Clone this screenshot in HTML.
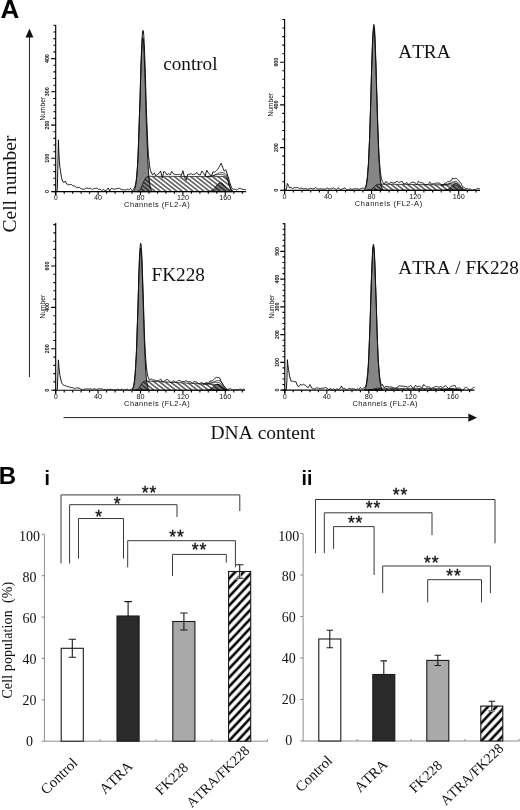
<!DOCTYPE html>
<html><head><meta charset="utf-8"><title>Figure</title>
<style>
html,body{margin:0;padding:0;background:#fff;}
svg{display:block}
text{font-family:"Liberation Serif",serif;fill:#111;font-kerning:none}
.yt{font-family:"Liberation Sans",sans-serif;font-size:5.3px;font-weight:bold}
.xt{font-family:"Liberation Sans",sans-serif;font-size:7.2px}
.num{font-family:"Liberation Sans",sans-serif;font-size:6.7px}
.ch{font-family:"Liberation Sans",sans-serif;font-size:7.4px}
.lab{font-size:19.2px}
.big{font-size:19.5px}
.pl{font-family:"Liberation Sans",sans-serif;font-weight:bold;font-size:24px;fill:#000}
.ps{font-family:"Liberation Sans",sans-serif;font-weight:bold;font-size:19.5px;fill:#000}
.tk{font-size:14px;text-anchor:middle}
.cat{font-size:14.1px;text-anchor:middle}
.st{font-family:"Liberation Sans",sans-serif;font-size:17.5px;text-anchor:middle;stroke:#111;stroke-width:0.35px;letter-spacing:0.9px}
.yl{font-size:14px}
</style></head><body>
<svg width="520" height="810" viewBox="0 0 520 810">
<defs>
<pattern id="hs" width="3.35" height="8" patternUnits="userSpaceOnUse" patternTransform="rotate(-52)">
<line x1="1.7" y1="-1" x2="1.7" y2="9" stroke="#000" stroke-width="1.0"/>
</pattern>
<pattern id="hb" width="6.15" height="8" patternUnits="userSpaceOnUse" patternTransform="rotate(43)">
<rect width="6.15" height="8" fill="#fff"/><rect x="1.2" y="0" width="2.55" height="8" fill="#000"/>
</pattern>
</defs>
<rect width="520" height="810" fill="#fff"/>

<text x="0.4" y="18.1" class="pl" style="font-size:26px">A</text>
<text x="-1.2" y="484" class="pl">B</text>
<text x="44.6" y="484.6" class="ps">i</text>
<text x="301.6" y="485.1" class="ps">ii</text>
<path d="M29.45 377V36" stroke="#222" stroke-width="1" fill="none"/><path d="M29.45 28.6L33.4 37.5H25.5Z" fill="#111"/>
<path d="M63.5 417.6H468" stroke="#222" stroke-width="1" fill="none"/><path d="M477 417.7L468.3 421.8V413.6Z" fill="#111"/>
<text transform="translate(16.3 184) rotate(-90)" class="big" text-anchor="middle">Cell number</text>
<text x="262.8" y="438.5" class="big" text-anchor="middle">DNA content</text>
<g><path d="M133.6 191.6 L133.6 190.9 L134.1 190.3 L134.7 189.3 L135.2 187.8 L135.7 185.3 L136.3 181.6 L136.8 176.3 L137.3 169.1 L137.9 159.6 L138.4 147.7 L138.9 133.4 L139.4 117.2 L140.0 99.8 L140.5 82.3 L141.0 66.0 L141.6 52.4 L142.1 42.6 L142.6 37.8 L143.2 38.3 L143.7 44.2 L144.2 54.8 L144.7 69.1 L145.3 85.7 L145.8 103.3 L146.3 120.5 L146.9 136.4 L147.4 150.2 L147.9 161.7 L148.4 170.7 L149.0 177.5 L149.5 182.5 L150.0 185.9 L150.6 188.1 L151.1 189.6 L151.6 190.5 L151.6 191.6 Z" fill="#858585" stroke="#111" stroke-width="1.00" stroke-linejoin="round"/>
<path d="M208.9 191.6 L208.9 191.4 L209.4 191.3 L209.9 191.2 L210.5 191.0 L211.0 190.8 L211.5 190.6 L212.1 190.3 L212.6 190.0 L213.1 189.6 L213.6 189.1 L214.2 188.6 L214.7 188.0 L215.2 187.4 L215.8 186.7 L216.3 186.0 L216.8 185.3 L217.4 184.7 L217.9 184.1 L218.4 183.6 L218.9 183.2 L219.5 182.8 L220.0 182.7 L220.5 182.6 L221.1 182.7 L221.6 183.0 L222.1 183.3 L222.7 183.8 L223.2 184.3 L223.7 185.0 L224.2 185.6 L224.8 186.3 L225.3 187.0 L225.8 187.6 L226.4 188.2 L226.9 188.8 L227.4 189.3 L227.9 189.7 L228.5 190.1 L229.0 190.4 L229.5 190.7 L230.1 190.9 L230.6 191.1 L231.1 191.2 L231.7 191.3 L232.2 191.4 L232.2 191.6 Z" fill="#7d7d7d" stroke="#111" stroke-width="0.90"/>
<path d="M136.8 191.6 L136.8 191.5 L137.3 191.4 L137.9 191.3 L138.4 191.1 L138.9 190.8 L139.4 190.4 L140.0 189.8 L140.5 189.1 L141.0 188.2 L141.6 187.1 L142.1 185.8 L142.6 184.5 L143.2 183.1 L143.7 181.8 L144.2 180.6 L144.7 179.5 L145.3 178.7 L145.8 177.9 L146.3 177.4 L146.9 177.0 L147.4 176.8 L147.9 176.6 L148.4 176.5 L149.0 176.4 L149.5 176.4 L150.0 176.4 L150.6 176.3 L151.1 176.3 L151.6 176.3 L152.2 176.3 L152.7 176.3 L153.2 176.3 L153.8 176.4 L154.3 176.4 L154.8 176.4 L155.3 176.4 L155.9 176.4 L156.4 176.4 L156.9 176.4 L157.5 176.4 L158.0 176.4 L158.5 176.4 L159.1 176.4 L159.6 176.4 L160.1 176.4 L160.6 176.4 L161.2 176.4 L161.7 176.4 L162.2 176.4 L162.8 176.4 L163.3 176.4 L163.8 176.4 L164.4 176.4 L164.9 176.4 L165.4 176.4 L165.9 176.4 L166.5 176.4 L167.0 176.4 L167.5 176.4 L168.1 176.4 L168.6 176.4 L169.1 176.4 L169.7 176.4 L170.2 176.4 L170.7 176.4 L171.2 176.4 L171.8 176.4 L172.3 176.4 L172.8 176.4 L173.4 176.4 L173.9 176.4 L174.4 176.4 L174.9 176.4 L175.5 176.4 L176.0 176.4 L176.5 176.4 L177.1 176.5 L177.6 176.5 L178.1 176.5 L178.7 176.5 L179.2 176.5 L179.7 176.5 L180.2 176.5 L180.8 176.5 L181.3 176.5 L181.8 176.5 L182.4 176.5 L182.9 176.5 L183.4 176.5 L184.0 176.5 L184.5 176.5 L185.0 176.5 L185.6 176.5 L186.1 176.5 L186.6 176.5 L187.1 176.5 L187.7 176.5 L188.2 176.5 L188.7 176.5 L189.3 176.5 L189.8 176.5 L190.3 176.5 L190.9 176.5 L191.4 176.5 L191.9 176.5 L192.4 176.5 L193.0 176.5 L193.5 176.5 L194.0 176.5 L194.6 176.5 L195.1 176.5 L195.6 176.5 L196.2 176.5 L196.7 176.5 L197.2 176.5 L197.7 176.5 L198.3 176.5 L198.8 176.5 L199.3 176.5 L199.9 176.5 L200.4 176.6 L200.9 176.6 L201.4 176.6 L202.0 176.6 L202.5 176.6 L203.0 176.6 L203.6 176.6 L204.1 176.6 L204.6 176.6 L205.2 176.6 L205.7 176.6 L206.2 176.6 L206.8 176.6 L207.3 176.6 L207.8 176.6 L208.3 176.6 L208.9 176.6 L209.4 176.6 L209.9 176.6 L210.5 176.6 L211.0 176.6 L211.5 176.6 L212.1 176.6 L212.6 176.6 L213.1 176.6 L213.6 176.6 L214.2 176.6 L214.7 176.6 L215.2 176.6 L215.8 176.6 L216.3 176.6 L216.8 176.6 L217.4 176.6 L217.9 176.6 L218.4 176.6 L218.9 176.6 L219.5 176.6 L220.0 176.6 L220.5 176.6 L221.1 176.6 L221.6 176.6 L222.1 176.6 L222.7 176.6 L223.2 176.6 L223.7 176.7 L224.2 176.7 L224.8 176.8 L225.3 177.0 L225.8 177.3 L226.4 177.8 L226.9 178.6 L227.4 179.7 L227.9 181.1 L228.5 182.7 L229.0 184.5 L229.5 186.2 L230.1 187.7 L230.6 189.0 L231.1 190.0 L231.7 190.7 L232.2 191.1 L232.7 191.3 L232.7 191.6 Z" fill="url(#hs)" stroke="#111" stroke-width="0.90"/>
<path d="M55.7 191.6 L56.2 191.6 L56.8 191.6 L57.3 189.1 L57.8 168.6 L58.4 139.8 L58.9 153.1 L59.4 161.8 L59.9 167.4 L60.5 170.7 L61.0 174.7 L61.5 177.6 L62.1 179.9 L62.6 181.0 L63.1 181.9 L63.7 182.6 L64.2 182.1 L64.7 181.7 L65.2 181.1 L65.8 182.2 L66.3 183.1 L66.8 184.1 L67.4 184.4 L67.9 184.6 L68.4 184.9 L69.0 184.8 L69.5 184.6 L70.0 184.5 L70.5 184.5 L71.1 184.5 L71.6 184.5 L72.1 185.0 L72.7 185.6 L73.2 186.1 L73.7 186.0 L74.2 185.9 L74.8 185.8 L75.3 186.4 L75.8 187.1 L76.4 187.7 L76.9 187.6 L77.4 187.5 L78.0 187.3 L78.5 187.5 L79.0 187.6 L79.6 187.6 L80.1 188.0 L80.6 188.4 L81.1 188.8 L81.7 188.9 L82.2 189.0 L82.7 189.1 L83.3 189.2 L83.8 189.3 L84.3 189.4 L84.9 189.0 L85.4 188.6 L85.9 188.2 L86.4 188.2 L87.0 188.2 L87.5 188.2 L88.0 188.3 L88.6 188.4 L89.1 188.5 L89.6 188.4 L90.2 188.3 L90.7 188.2 L91.2 188.7 L91.7 189.2 L92.3 189.6 L92.8 189.3 L93.3 188.9 L93.9 188.6 L94.4 188.5 L94.9 188.4 L95.5 188.3 L96.0 188.2 L96.5 188.1 L97.0 188.0 L97.6 188.5 L98.1 189.0 L98.6 189.5 L99.2 189.3 L99.7 189.2 L100.2 189.1 L100.8 189.6 L101.3 190.1 L101.8 190.6 L102.3 190.2 L102.9 189.7 L103.4 189.3 L103.9 189.8 L104.5 190.3 L105.0 190.8 L105.5 190.6 L106.1 190.4 L106.6 190.2 L107.1 189.5 L107.6 188.7 L108.2 188.0 L108.7 189.0 L109.2 189.9 L109.8 190.9 L110.3 190.1 L110.8 189.2 L111.4 188.3 L111.9 188.5 L112.4 188.6 L112.9 188.8 L113.5 189.0 L114.0 189.2 L114.5 189.3 L115.1 189.1 L115.6 188.9 L116.1 188.7 L116.7 188.7 L117.2 188.7 L117.7 188.7 L118.2 188.5 L118.8 188.4 L119.3 188.2 L119.8 188.6 L120.4 189.0 L120.9 189.3 L121.4 189.4 L122.0 189.6 L122.5 189.7 L123.0 189.7 L123.5 189.7 L124.1 189.7 L124.6 189.8 L125.1 189.9 L125.7 190.0 L126.2 189.8 L126.7 189.5 L127.2 189.2 L127.8 189.4 L128.3 189.7 L128.8 189.9 L129.4 189.3 L129.9 188.8 L130.4 188.3 L131.0 189.1 L131.5 189.9 L132.0 190.7 L132.6 190.4 L133.1 190.0 L133.6 189.5 L134.1 188.2 L134.7 187.2 L135.2 185.6 L135.7 183.3 L136.3 179.8 L136.8 174.8 L137.3 169.3 L137.9 159.0 L138.4 146.0 L138.9 132.3 L139.4 116.7 L140.0 100.1 L140.5 81.3 L141.0 63.5 L141.6 48.1 L142.1 37.2 L142.6 31.1 L143.2 30.4 L143.7 34.2 L144.2 42.8 L144.7 55.3 L145.3 72.3 L145.8 90.3 L146.3 108.0 L146.9 122.5 L147.4 135.3 L147.9 146.0 L148.4 155.3 L149.0 160.1 L149.5 165.3 L150.0 168.5 L150.6 170.7 L151.1 172.0 L151.6 173.0 L152.2 174.2 L152.7 174.8 L153.2 174.2 L153.8 173.6 L154.3 172.9 L154.8 173.9 L155.3 174.9 L155.9 175.9 L156.4 175.4 L156.9 174.8 L157.5 174.2 L158.0 173.9 L158.5 173.7 L159.1 173.4 L159.6 172.6 L160.1 171.8 L160.6 170.9 L161.2 173.3 L161.7 175.7 L162.2 178.1 L162.8 175.9 L163.3 173.7 L163.8 171.5 L164.4 171.8 L164.9 172.1 L165.4 172.5 L165.9 173.3 L166.5 174.1 L167.0 174.9 L167.5 174.5 L168.1 174.0 L168.6 173.6 L169.1 174.0 L169.7 174.4 L170.2 174.9 L170.7 173.7 L171.2 172.5 L171.8 171.3 L172.3 172.1 L172.8 172.9 L173.4 173.8 L173.9 174.0 L174.4 174.2 L174.9 174.5 L175.5 174.5 L176.0 174.5 L176.5 174.5 L177.1 174.5 L177.6 174.5 L178.1 174.5 L178.7 174.5 L179.2 174.4 L179.7 174.4 L180.2 174.8 L180.8 175.2 L181.3 175.6 L181.8 174.0 L182.4 172.3 L182.9 170.7 L183.4 172.9 L184.0 175.1 L184.5 177.4 L185.0 178.3 L185.6 179.3 L186.1 180.2 L186.6 178.3 L187.1 176.3 L187.7 174.4 L188.2 174.4 L188.7 174.4 L189.3 174.4 L189.8 174.1 L190.3 173.8 L190.9 173.6 L191.4 173.9 L191.9 174.2 L192.4 174.5 L193.0 174.5 L193.5 174.5 L194.0 174.4 L194.6 174.2 L195.1 173.9 L195.6 173.6 L196.2 173.3 L196.7 172.9 L197.2 172.6 L197.7 173.4 L198.3 174.2 L198.8 175.0 L199.3 174.9 L199.9 174.9 L200.4 174.9 L200.9 173.6 L201.4 172.3 L202.0 171.0 L202.5 171.8 L203.0 172.5 L203.6 173.3 L204.1 174.2 L204.6 175.0 L205.2 175.9 L205.7 174.0 L206.2 172.2 L206.8 170.3 L207.3 171.1 L207.8 172.0 L208.3 172.8 L208.9 173.5 L209.4 174.2 L209.9 174.8 L210.5 175.0 L211.0 175.2 L211.5 175.3 L212.1 174.2 L212.6 173.0 L213.1 171.7 L213.6 171.9 L214.2 172.1 L214.7 172.2 L215.2 171.7 L215.8 171.2 L216.3 170.7 L216.8 170.2 L217.4 169.7 L217.9 169.3 L218.4 168.3 L218.9 167.4 L219.5 166.6 L220.0 165.3 L220.5 164.2 L221.1 163.2 L221.6 164.5 L222.1 165.9 L222.7 167.3 L223.2 168.5 L223.7 169.8 L224.2 171.1 L224.8 170.5 L225.3 170.1 L225.8 169.8 L226.4 171.3 L226.9 173.0 L227.4 175.0 L227.9 176.4 L228.5 178.0 L229.0 179.8 L229.5 181.7 L230.1 183.4 L230.6 184.9 L231.1 186.5 L231.7 187.8 L232.2 188.7 L232.7 189.0 L233.2 189.2 L233.8 189.3 L234.3 189.3 L234.8 189.3 L235.4 189.3 L235.9 189.6 L236.4 189.9 L237.0 190.2 L237.5 189.7 L238.0 189.2 L238.6 188.7 L239.1 188.5 L239.6 188.3 L240.1 188.1 L240.7 188.5 L241.2 188.8 L241.7 189.1 L242.3 189.2 L242.8 189.4 L243.3 189.5 L243.9 189.5 L244.4 189.5 L244.9 189.5 L245.4 189.6 L246.0 189.8" fill="none" stroke="#111" stroke-width="1.00" stroke-linejoin="round"/>
<path d="M205.7 176.5 L206.2 176.5 L206.8 176.5 L207.3 176.5 L207.8 176.4 L208.3 176.4 L208.9 176.4 L209.4 176.3 L209.9 176.2 L210.5 176.1 L211.0 176.0 L211.5 175.9 L212.1 175.8 L212.6 175.6 L213.1 175.5 L213.6 175.3 L214.2 175.1 L214.7 174.9 L215.2 174.6 L215.8 174.4 L216.3 174.2 L216.8 173.9 L217.4 173.7 L217.9 173.5 L218.4 173.3 L218.9 173.1 L219.5 172.9 L220.0 172.8 L220.5 172.7 L221.1 172.7 L221.6 172.6 L222.1 172.7 L222.7 172.7 L223.2 172.9 L223.7 173.0 L224.2 173.2 L224.8 173.5 L225.3 173.9 L225.8 174.4 L226.4 175.2 L226.9 176.2 L227.4 177.6 L227.9 179.2 L228.5 181.1 L229.0 183.0 L229.5 184.9 L230.1 186.7 L230.6 188.1 L231.1 189.2 L231.7 190.0 L232.2 190.6 L232.7 190.9" fill="none" stroke="#111" stroke-width="0.8"/>
<path d="M205.7 176.5 L206.2 176.5 L206.8 176.5 L207.3 176.5 L207.8 176.4 L208.3 176.4 L208.9 176.3 L209.4 176.3 L209.9 176.2 L210.5 176.1 L211.0 176.1 L211.5 176.0 L212.1 175.9 L212.6 175.8 L213.1 175.6 L213.6 175.5 L214.2 175.4 L214.7 175.3 L215.2 175.1 L215.8 175.0 L216.3 174.9 L216.8 174.8 L217.4 174.7 L217.9 174.6 L218.4 174.5 L218.9 174.5 L219.5 174.4 L220.0 174.4 L220.5 174.5 L221.1 174.5 L221.6 174.6 L222.1 174.6 L222.7 174.7 L223.2 174.8 L223.7 175.0 L224.2 175.1 L224.8 175.4 L225.3 175.7 L225.8 176.1 L226.4 176.8 L226.9 177.7 L227.4 178.9 L227.9 180.4 L228.5 182.1 L229.0 184.0 L229.5 185.8 L230.1 187.4 L230.6 188.7 L231.1 189.8 L231.7 190.5 L232.2 190.9 L232.7 191.2" fill="none" stroke="#111" stroke-width="0.8"/>
<path d="M55.7 25.0 V195.1 M51.2 191.6 H246.0" stroke="#000" stroke-width="1.15" fill="none"/>
<path d="M53.4 191.6H55.7M53.4 184.9H55.7M53.4 178.3H55.7M53.4 171.6H55.7M53.4 165.0H55.7M51.2 158.3H55.7M53.4 151.7H55.7M53.4 145.0H55.7M53.4 138.4H55.7M53.4 131.8H55.7M51.2 125.1H55.7M53.4 118.4H55.7M53.4 111.8H55.7M53.4 105.1H55.7M53.4 98.5H55.7M51.2 91.8H55.7M53.4 85.2H55.7M53.4 78.5H55.7M53.4 71.9H55.7M53.4 65.2H55.7M51.2 58.6H55.7M53.4 51.9H55.7M53.4 45.3H55.7M53.4 38.6H55.7M53.4 32.0H55.7M53.4 25.3H55.7M55.7 191.6V195.2M64.2 191.6V193.8M72.7 191.6V193.8M81.1 191.6V193.8M89.6 191.6V193.8M98.1 191.6V195.2M106.6 191.6V193.8M115.1 191.6V193.8M123.5 191.6V193.8M132.0 191.6V193.8M140.5 191.6V195.2M149.0 191.6V193.8M157.5 191.6V193.8M165.9 191.6V193.8M174.4 191.6V193.8M182.9 191.6V195.2M191.4 191.6V193.8M199.9 191.6V193.8M208.3 191.6V193.8M216.8 191.6V193.8M225.3 191.6V195.2M233.8 191.6V193.8M242.3 191.6V193.8" stroke="#000" stroke-width="1.1" fill="none"/>
<text transform="translate(49.4 191.6) rotate(-90)" class="yt" text-anchor="middle">0</text>
<text transform="translate(49.4 158.3) rotate(-90)" class="yt" text-anchor="middle">100</text>
<text transform="translate(49.4 125.1) rotate(-90)" class="yt" text-anchor="middle">200</text>
<text transform="translate(49.4 91.8) rotate(-90)" class="yt" text-anchor="middle">300</text>
<text transform="translate(49.4 58.6) rotate(-90)" class="yt" text-anchor="middle">400</text>
<text x="55.7" y="200.2" class="xt" text-anchor="middle">0</text>
<text x="98.1" y="200.2" class="xt" text-anchor="middle">40</text>
<text x="140.5" y="200.2" class="xt" text-anchor="middle">80</text>
<text x="182.9" y="200.2" class="xt" text-anchor="middle">120</text>
<text x="225.3" y="200.2" class="xt" text-anchor="middle">160</text>
<text transform="translate(44.9 108.7) rotate(-90)" class="num" text-anchor="middle">Number</text>
<text x="124.1" y="207.3" class="ch" textLength="65.6" lengthAdjust="spacing">Channels (FL2-A)</text>
<text x="163.2" y="70.4" class="lab">control</text></g>
<g><path d="M364.6 190.3 L364.6 189.5 L365.1 188.9 L365.7 187.8 L366.2 186.0 L366.7 183.2 L367.3 179.0 L367.8 173.0 L368.4 164.8 L368.9 154.0 L369.5 140.6 L370.0 124.7 L370.6 106.9 L371.1 88.1 L371.6 69.6 L372.2 52.9 L372.7 39.6 L373.3 31.0 L373.8 28.0 L374.4 31.0 L374.9 39.6 L375.4 52.9 L376.0 69.6 L376.5 88.1 L377.1 106.9 L377.6 124.7 L378.2 140.6 L378.7 154.0 L379.3 164.8 L379.8 173.0 L380.3 179.0 L380.9 183.2 L381.4 186.0 L382.0 187.8 L382.5 188.9 L383.1 189.5 L383.1 190.3 Z" fill="#858585" stroke="#111" stroke-width="1.00" stroke-linejoin="round"/>
<path d="M444.5 190.3 L444.5 190.1 L445.1 190.1 L445.6 190.0 L446.2 189.9 L446.7 189.7 L447.3 189.5 L447.8 189.3 L448.3 189.0 L448.9 188.6 L449.4 188.3 L450.0 187.8 L450.5 187.3 L451.1 186.8 L451.6 186.3 L452.2 185.7 L452.7 185.2 L453.2 184.7 L453.8 184.3 L454.3 183.9 L454.9 183.7 L455.4 183.5 L456.0 183.5 L456.5 183.6 L457.0 183.7 L457.6 184.0 L458.1 184.4 L458.7 184.9 L459.2 185.4 L459.8 185.9 L460.3 186.5 L460.9 187.0 L461.4 187.5 L461.9 188.0 L462.5 188.4 L463.0 188.8 L463.6 189.1 L464.1 189.4 L464.7 189.6 L465.2 189.8 L465.8 189.9 L466.3 190.0 L466.8 190.1 L467.4 190.2 L467.4 190.3 Z" fill="#7d7d7d" stroke="#111" stroke-width="0.90"/>
<path d="M367.8 190.3 L367.8 190.3 L368.4 190.2 L368.9 190.2 L369.5 190.1 L370.0 190.0 L370.6 189.8 L371.1 189.5 L371.6 189.2 L372.2 188.8 L372.7 188.3 L373.3 187.8 L373.8 187.2 L374.4 186.7 L374.9 186.1 L375.4 185.7 L376.0 185.3 L376.5 184.9 L377.1 184.7 L377.6 184.5 L378.2 184.4 L378.7 184.3 L379.3 184.2 L379.8 184.2 L380.3 184.2 L380.9 184.2 L381.4 184.2 L382.0 184.2 L382.5 184.2 L383.1 184.2 L383.6 184.2 L384.2 184.2 L384.7 184.2 L385.2 184.2 L385.8 184.2 L386.3 184.2 L386.9 184.2 L387.4 184.3 L388.0 184.3 L388.5 184.3 L389.0 184.3 L389.6 184.3 L390.1 184.3 L390.7 184.3 L391.2 184.3 L391.8 184.3 L392.3 184.3 L392.9 184.3 L393.4 184.3 L393.9 184.3 L394.5 184.3 L395.0 184.3 L395.6 184.3 L396.1 184.3 L396.7 184.3 L397.2 184.4 L397.8 184.4 L398.3 184.4 L398.8 184.4 L399.4 184.4 L399.9 184.4 L400.5 184.4 L401.0 184.4 L401.6 184.4 L402.1 184.4 L402.6 184.4 L403.2 184.4 L403.7 184.4 L404.3 184.4 L404.8 184.4 L405.4 184.4 L405.9 184.4 L406.5 184.4 L407.0 184.5 L407.5 184.5 L408.1 184.5 L408.6 184.5 L409.2 184.5 L409.7 184.5 L410.3 184.5 L410.8 184.5 L411.4 184.5 L411.9 184.5 L412.4 184.5 L413.0 184.5 L413.5 184.5 L414.1 184.5 L414.6 184.5 L415.2 184.5 L415.7 184.5 L416.2 184.6 L416.8 184.6 L417.3 184.6 L417.9 184.6 L418.4 184.6 L419.0 184.6 L419.5 184.6 L420.1 184.6 L420.6 184.6 L421.1 184.6 L421.7 184.6 L422.2 184.6 L422.8 184.6 L423.3 184.6 L423.9 184.6 L424.4 184.6 L425.0 184.6 L425.5 184.6 L426.0 184.7 L426.6 184.7 L427.1 184.7 L427.7 184.7 L428.2 184.7 L428.8 184.7 L429.3 184.7 L429.8 184.7 L430.4 184.7 L430.9 184.7 L431.5 184.7 L432.0 184.7 L432.6 184.7 L433.1 184.7 L433.7 184.7 L434.2 184.7 L434.7 184.7 L435.3 184.7 L435.8 184.8 L436.4 184.8 L436.9 184.8 L437.5 184.8 L438.0 184.8 L438.6 184.8 L439.1 184.8 L439.6 184.8 L440.2 184.8 L440.7 184.8 L441.3 184.8 L441.8 184.8 L442.4 184.8 L442.9 184.8 L443.4 184.8 L444.0 184.8 L444.5 184.8 L445.1 184.9 L445.6 184.9 L446.2 184.9 L446.7 184.9 L447.3 184.9 L447.8 184.9 L448.3 184.9 L448.9 184.9 L449.4 184.9 L450.0 184.9 L450.5 184.9 L451.1 184.9 L451.6 184.9 L452.2 184.9 L452.7 184.9 L453.2 184.9 L453.8 185.0 L454.3 185.0 L454.9 185.0 L455.4 185.1 L456.0 185.2 L456.5 185.4 L457.0 185.7 L457.6 186.1 L458.1 186.6 L458.7 187.1 L459.2 187.8 L459.8 188.4 L460.3 188.9 L460.9 189.4 L461.4 189.7 L461.9 190.0 L462.5 190.1 L463.0 190.2 L463.0 190.3 Z" fill="url(#hs)" stroke="#111" stroke-width="0.90"/>
<path d="M284.6 190.3 L285.1 190.3 L285.7 190.3 L286.2 189.1 L286.8 187.2 L287.3 183.5 L287.9 184.4 L288.4 185.3 L289.0 186.8 L289.5 187.9 L290.0 187.7 L290.6 187.5 L291.1 187.2 L291.7 187.9 L292.2 188.4 L292.8 189.0 L293.3 188.4 L293.8 187.8 L294.4 187.2 L294.9 187.4 L295.5 187.7 L296.0 187.9 L296.6 187.7 L297.1 187.5 L297.7 187.4 L298.2 187.7 L298.7 188.1 L299.3 188.5 L299.8 188.4 L300.4 188.2 L300.9 188.1 L301.5 188.2 L302.0 188.4 L302.6 188.5 L303.1 188.7 L303.6 188.8 L304.2 188.9 L304.7 188.7 L305.3 188.6 L305.8 188.4 L306.4 188.7 L306.9 189.0 L307.4 189.2 L308.0 189.1 L308.5 188.9 L309.1 188.8 L309.6 188.6 L310.2 188.5 L310.7 188.3 L311.3 188.4 L311.8 188.5 L312.3 188.7 L312.9 188.8 L313.4 188.8 L314.0 188.9 L314.5 188.5 L315.1 188.0 L315.6 187.6 L316.2 188.0 L316.7 188.4 L317.2 188.7 L317.8 188.9 L318.3 189.0 L318.9 189.1 L319.4 189.0 L320.0 188.9 L320.5 188.7 L321.0 188.9 L321.6 189.0 L322.1 189.1 L322.7 189.1 L323.2 189.1 L323.8 189.1 L324.3 189.1 L324.9 189.1 L325.4 189.1 L325.9 188.7 L326.5 188.3 L327.0 187.9 L327.6 188.2 L328.1 188.5 L328.7 188.9 L329.2 188.9 L329.8 188.9 L330.3 188.8 L330.8 188.7 L331.4 188.7 L331.9 188.6 L332.5 188.4 L333.0 188.1 L333.6 187.9 L334.1 188.3 L334.6 188.7 L335.2 189.1 L335.7 189.1 L336.3 189.2 L336.8 189.3 L337.4 188.7 L337.9 188.2 L338.5 187.7 L339.0 188.4 L339.5 189.0 L340.1 189.7 L340.6 189.5 L341.2 189.3 L341.7 189.2 L342.3 189.0 L342.8 188.8 L343.4 188.6 L343.9 188.4 L344.4 188.1 L345.0 187.8 L345.5 188.4 L346.1 188.9 L346.6 189.5 L347.2 189.7 L347.7 190.0 L348.2 190.2 L348.8 189.7 L349.3 189.2 L349.9 188.7 L350.4 188.9 L351.0 189.1 L351.5 189.3 L352.1 189.2 L352.6 189.2 L353.1 189.2 L353.7 189.0 L354.2 188.9 L354.8 188.8 L355.3 188.8 L355.9 188.8 L356.4 188.9 L357.0 188.9 L357.5 188.9 L358.0 188.9 L358.6 189.0 L359.1 189.1 L359.7 189.2 L360.2 188.9 L360.8 188.6 L361.3 188.4 L361.8 188.3 L362.4 188.2 L362.9 188.1 L363.5 188.3 L364.0 188.3 L364.6 188.2 L365.1 187.6 L365.7 186.5 L366.2 184.8 L366.7 181.9 L367.3 177.6 L367.8 171.4 L368.4 164.5 L368.9 153.7 L369.5 140.2 L370.0 124.4 L370.6 106.7 L371.1 88.0 L371.6 69.0 L372.2 51.8 L372.7 37.9 L373.3 28.4 L373.8 24.5 L374.4 26.5 L374.9 34.9 L375.4 48.1 L376.0 64.6 L376.5 82.8 L377.1 101.4 L377.6 119.1 L378.2 134.7 L378.7 148.0 L379.3 158.6 L379.8 165.6 L380.3 171.6 L380.9 175.8 L381.4 178.6 L382.0 180.4 L382.5 181.5 L383.1 182.7 L383.6 183.6 L384.2 184.4 L384.7 183.4 L385.2 182.5 L385.8 181.4 L386.3 181.9 L386.9 182.3 L387.4 182.8 L388.0 183.1 L388.5 183.4 L389.0 183.7 L389.6 183.2 L390.1 182.7 L390.7 182.2 L391.2 182.4 L391.8 182.6 L392.3 182.8 L392.9 182.8 L393.4 182.9 L393.9 183.0 L394.5 182.7 L395.0 182.4 L395.6 182.2 L396.1 181.8 L396.7 181.5 L397.2 181.2 L397.8 181.6 L398.3 182.1 L398.8 182.6 L399.4 182.3 L399.9 182.0 L400.5 181.8 L401.0 181.6 L401.6 181.5 L402.1 181.3 L402.6 182.2 L403.2 183.1 L403.7 184.0 L404.3 183.9 L404.8 183.7 L405.4 183.6 L405.9 183.2 L406.5 182.9 L407.0 182.5 L407.5 183.2 L408.1 183.9 L408.6 184.6 L409.2 184.2 L409.7 183.8 L410.3 183.4 L410.8 183.0 L411.4 182.6 L411.9 182.1 L412.4 182.2 L413.0 182.3 L413.5 182.4 L414.1 182.5 L414.6 182.6 L415.2 182.8 L415.7 183.5 L416.2 184.2 L416.8 184.9 L417.3 183.7 L417.9 182.5 L418.4 181.3 L419.0 181.8 L419.5 182.3 L420.1 182.8 L420.6 182.8 L421.1 182.7 L421.7 182.7 L422.2 182.8 L422.8 182.8 L423.3 182.9 L423.9 183.6 L424.4 184.2 L425.0 184.8 L425.5 184.7 L426.0 184.6 L426.6 184.6 L427.1 184.5 L427.7 184.5 L428.2 184.4 L428.8 183.5 L429.3 182.7 L429.8 181.8 L430.4 182.6 L430.9 183.4 L431.5 184.1 L432.0 184.0 L432.6 183.8 L433.1 183.6 L433.7 183.7 L434.2 183.7 L434.7 183.7 L435.3 183.5 L435.8 183.2 L436.4 183.0 L436.9 183.0 L437.5 183.1 L438.0 183.1 L438.6 183.1 L439.1 183.2 L439.6 183.3 L440.2 183.7 L440.7 184.1 L441.3 184.6 L441.8 185.1 L442.4 185.6 L442.9 186.1 L443.4 185.2 L444.0 184.2 L444.5 183.3 L445.1 183.2 L445.6 183.1 L446.2 182.9 L446.7 182.5 L447.3 182.0 L447.8 181.5 L448.3 181.6 L448.9 181.7 L449.4 181.7 L450.0 181.4 L450.5 181.1 L451.1 180.7 L451.6 179.9 L452.2 179.0 L452.7 178.1 L453.2 178.3 L453.8 178.6 L454.3 178.9 L454.9 178.6 L455.4 178.3 L456.0 178.2 L456.5 178.4 L457.0 178.9 L457.6 179.5 L458.1 180.0 L458.7 180.6 L459.2 181.3 L459.8 182.0 L460.3 182.6 L460.9 183.2 L461.4 184.5 L461.9 185.5 L462.5 186.5 L463.0 186.9 L463.6 187.2 L464.1 187.4 L464.7 187.8 L465.2 188.2 L465.8 188.5 L466.3 188.6 L466.8 188.7 L467.4 188.7 L467.9 188.9 L468.5 189.1 L469.0 189.2 L469.6 189.2 L470.1 189.2 L470.6 189.1 L471.2 189.5 L471.7 189.9 L472.3 190.2 L472.8 190.0 L473.4 189.8 L473.9 189.6 L474.5 189.6 L475.0 189.6 L475.5 189.7 L476.1 189.3 L476.6 189.0 L477.2 188.6 L477.7 188.6 L478.3 188.7 L478.8 188.7 L479.4 188.6 L479.9 188.5" fill="none" stroke="#111" stroke-width="1.00" stroke-linejoin="round"/>
<path d="M441.3 184.8 L441.8 184.8 L442.4 184.8 L442.9 184.7 L443.4 184.7 L444.0 184.7 L444.5 184.6 L445.1 184.6 L445.6 184.5 L446.2 184.4 L446.7 184.3 L447.3 184.2 L447.8 184.1 L448.3 183.9 L448.9 183.7 L449.4 183.6 L450.0 183.4 L450.5 183.1 L451.1 182.9 L451.6 182.7 L452.2 182.4 L452.7 182.2 L453.2 182.0 L453.8 181.8 L454.3 181.6 L454.9 181.5 L455.4 181.4 L456.0 181.4 L456.5 181.6 L457.0 181.8 L457.6 182.2 L458.1 182.8 L458.7 183.5 L459.2 184.3 L459.8 185.1 L460.3 185.8 L460.9 186.5 L461.4 187.1 L461.9 187.6 L462.5 188.0 L463.0 188.3" fill="none" stroke="#111" stroke-width="0.8"/>
<path d="M441.3 184.8 L441.8 184.7 L442.4 184.7 L442.9 184.7 L443.4 184.7 L444.0 184.6 L444.5 184.6 L445.1 184.6 L445.6 184.5 L446.2 184.4 L446.7 184.3 L447.3 184.2 L447.8 184.1 L448.3 184.0 L448.9 183.9 L449.4 183.8 L450.0 183.7 L450.5 183.5 L451.1 183.4 L451.6 183.3 L452.2 183.2 L452.7 183.1 L453.2 183.0 L453.8 182.9 L454.3 182.9 L454.9 182.9 L455.4 183.0 L456.0 183.1 L456.5 183.3 L457.0 183.7 L457.6 184.1 L458.1 184.7 L458.7 185.4 L459.2 186.2 L459.8 186.9 L460.3 187.6 L460.9 188.2 L461.4 188.7 L461.9 189.0 L462.5 189.3 L463.0 189.5" fill="none" stroke="#111" stroke-width="0.8"/>
<path d="M284.6 19.0 V193.8 M280.1 190.3 H480.0" stroke="#000" stroke-width="1.15" fill="none"/>
<path d="M282.3 190.3H284.6M282.3 181.8H284.6M282.3 173.2H284.6M282.3 164.7H284.6M282.3 156.1H284.6M280.1 147.6H284.6M282.3 139.1H284.6M282.3 130.5H284.6M282.3 122.0H284.6M282.3 113.4H284.6M280.1 104.9H284.6M282.3 96.4H284.6M282.3 87.8H284.6M282.3 79.3H284.6M282.3 70.7H284.6M280.1 62.2H284.6M282.3 53.7H284.6M282.3 45.1H284.6M282.3 36.6H284.6M282.3 28.0H284.6M282.3 19.5H284.6M284.6 190.3V193.9M293.3 190.3V192.5M302.0 190.3V192.5M310.7 190.3V192.5M319.4 190.3V192.5M328.1 190.3V193.9M336.8 190.3V192.5M345.5 190.3V192.5M354.2 190.3V192.5M362.9 190.3V192.5M371.6 190.3V193.9M380.3 190.3V192.5M389.0 190.3V192.5M397.8 190.3V192.5M406.5 190.3V192.5M415.2 190.3V193.9M423.9 190.3V192.5M432.6 190.3V192.5M441.3 190.3V192.5M450.0 190.3V192.5M458.7 190.3V193.9M467.4 190.3V192.5M476.1 190.3V192.5" stroke="#000" stroke-width="1.1" fill="none"/>
<text transform="translate(278.3 190.3) rotate(-90)" class="yt" text-anchor="middle">0</text>
<text transform="translate(278.3 147.6) rotate(-90)" class="yt" text-anchor="middle">200</text>
<text transform="translate(278.3 104.9) rotate(-90)" class="yt" text-anchor="middle">400</text>
<text transform="translate(278.3 62.2) rotate(-90)" class="yt" text-anchor="middle">600</text>
<text x="284.6" y="198.9" class="xt" text-anchor="middle">0</text>
<text x="328.1" y="198.9" class="xt" text-anchor="middle">40</text>
<text x="371.6" y="198.9" class="xt" text-anchor="middle">80</text>
<text x="415.2" y="198.9" class="xt" text-anchor="middle">120</text>
<text x="458.7" y="198.9" class="xt" text-anchor="middle">160</text>
<text transform="translate(273.3 104.7) rotate(-90)" class="num" text-anchor="middle">Number</text>
<text x="354.8" y="206.0" class="ch" textLength="67.3" lengthAdjust="spacing">Channels (FL2-A)</text>
<text x="398.3" y="57.7" class="lab">ATRA</text></g>
<g><path d="M132.6 390.2 L132.6 389.0 L133.1 388.1 L133.6 386.4 L134.1 383.8 L134.7 379.8 L135.2 373.9 L135.7 365.8 L136.3 355.2 L136.8 342.0 L137.3 326.4 L137.9 309.3 L138.4 291.9 L138.9 275.5 L139.4 261.8 L140.0 252.4 L140.5 248.3 L141.0 250.1 L141.6 257.5 L142.1 269.6 L142.6 285.1 L143.2 302.3 L143.7 319.7 L144.2 336.0 L144.7 350.2 L145.3 361.9 L145.8 371.0 L146.3 377.7 L146.9 382.4 L147.4 385.5 L147.9 387.5 L148.4 388.7 L149.0 389.4 L149.0 390.2 Z" fill="#858585" stroke="#111" stroke-width="1.00" stroke-linejoin="round"/>
<path d="M206.2 390.2 L206.2 390.1 L206.8 390.0 L207.3 390.0 L207.8 389.9 L208.3 389.7 L208.9 389.6 L209.4 389.4 L209.9 389.2 L210.5 388.9 L211.0 388.5 L211.5 388.2 L212.1 387.8 L212.6 387.3 L213.1 386.8 L213.6 386.4 L214.2 385.9 L214.7 385.4 L215.2 385.0 L215.8 384.7 L216.3 384.4 L216.8 384.3 L217.4 384.2 L217.9 384.2 L218.4 384.4 L218.9 384.6 L219.5 384.9 L220.0 385.3 L220.5 385.7 L221.1 386.2 L221.6 386.7 L222.1 387.1 L222.7 387.6 L223.2 388.0 L223.7 388.4 L224.2 388.7 L224.8 389.0 L225.3 389.3 L225.8 389.5 L226.4 389.7 L226.9 389.8 L227.4 389.9 L227.9 390.0 L228.5 390.1 L228.5 390.2 Z" fill="#7d7d7d" stroke="#111" stroke-width="0.90"/>
<path d="M135.2 390.2 L135.2 390.1 L135.7 390.1 L136.3 390.0 L136.8 389.8 L137.3 389.6 L137.9 389.2 L138.4 388.7 L138.9 388.1 L139.4 387.4 L140.0 386.5 L140.5 385.6 L141.0 384.7 L141.6 383.9 L142.1 383.1 L142.6 382.5 L143.2 382.0 L143.7 381.6 L144.2 381.3 L144.7 381.2 L145.3 381.1 L145.8 381.0 L146.3 381.0 L146.9 381.0 L147.4 381.0 L147.9 381.1 L148.4 381.1 L149.0 381.1 L149.5 381.1 L150.0 381.2 L150.6 381.2 L151.1 381.2 L151.6 381.2 L152.2 381.3 L152.7 381.3 L153.2 381.3 L153.8 381.4 L154.3 381.4 L154.8 381.4 L155.3 381.4 L155.9 381.5 L156.4 381.5 L156.9 381.5 L157.5 381.5 L158.0 381.6 L158.5 381.6 L159.1 381.6 L159.6 381.6 L160.1 381.7 L160.6 381.7 L161.2 381.7 L161.7 381.8 L162.2 381.8 L162.8 381.8 L163.3 381.8 L163.8 381.9 L164.4 381.9 L164.9 381.9 L165.4 381.9 L165.9 382.0 L166.5 382.0 L167.0 382.0 L167.5 382.1 L168.1 382.1 L168.6 382.1 L169.1 382.1 L169.7 382.2 L170.2 382.2 L170.7 382.2 L171.2 382.2 L171.8 382.3 L172.3 382.3 L172.8 382.3 L173.4 382.4 L173.9 382.4 L174.4 382.4 L174.9 382.4 L175.5 382.5 L176.0 382.5 L176.5 382.5 L177.1 382.5 L177.6 382.6 L178.1 382.6 L178.7 382.6 L179.2 382.7 L179.7 382.7 L180.2 382.7 L180.8 382.7 L181.3 382.8 L181.8 382.8 L182.4 382.8 L182.9 382.8 L183.4 382.9 L184.0 382.9 L184.5 382.9 L185.0 383.0 L185.6 383.0 L186.1 383.0 L186.6 383.0 L187.1 383.1 L187.7 383.1 L188.2 383.1 L188.7 383.1 L189.3 383.2 L189.8 383.2 L190.3 383.2 L190.9 383.2 L191.4 383.3 L191.9 383.3 L192.4 383.3 L193.0 383.4 L193.5 383.4 L194.0 383.4 L194.6 383.4 L195.1 383.5 L195.6 383.5 L196.2 383.5 L196.7 383.5 L197.2 383.6 L197.7 383.6 L198.3 383.6 L198.8 383.7 L199.3 383.7 L199.9 383.7 L200.4 383.7 L200.9 383.8 L201.4 383.8 L202.0 383.8 L202.5 383.8 L203.0 383.9 L203.6 383.9 L204.1 383.9 L204.6 384.0 L205.2 384.0 L205.7 384.0 L206.2 384.0 L206.8 384.1 L207.3 384.1 L207.8 384.1 L208.3 384.1 L208.9 384.2 L209.4 384.2 L209.9 384.2 L210.5 384.3 L211.0 384.3 L211.5 384.3 L212.1 384.3 L212.6 384.4 L213.1 384.4 L213.6 384.4 L214.2 384.4 L214.7 384.5 L215.2 384.5 L215.8 384.5 L216.3 384.6 L216.8 384.6 L217.4 384.6 L217.9 384.6 L218.4 384.7 L218.9 384.7 L219.5 384.8 L220.0 385.0 L220.5 385.2 L221.1 385.6 L221.6 386.1 L222.1 386.6 L222.7 387.3 L223.2 387.9 L223.7 388.5 L224.2 389.1 L224.8 389.5 L225.3 389.8 L225.8 390.0 L226.4 390.1 L226.9 390.1 L226.9 390.2 Z" fill="url(#hs)" stroke="#111" stroke-width="0.90"/>
<path d="M55.7 390.2 L56.2 390.2 L56.8 390.2 L57.3 389.5 L57.8 376.9 L58.4 359.8 L58.9 366.4 L59.4 371.4 L59.9 375.3 L60.5 378.1 L61.0 380.4 L61.5 382.1 L62.1 383.5 L62.6 384.2 L63.1 384.8 L63.7 385.2 L64.2 385.4 L64.7 385.5 L65.2 385.5 L65.8 385.9 L66.3 386.2 L66.8 386.5 L67.4 386.6 L67.9 386.6 L68.4 386.6 L69.0 386.9 L69.5 387.1 L70.0 387.3 L70.5 387.4 L71.1 387.4 L71.6 387.5 L72.1 387.6 L72.7 387.7 L73.2 387.8 L73.7 388.2 L74.2 388.5 L74.8 388.9 L75.3 388.5 L75.8 388.2 L76.4 387.8 L76.9 387.9 L77.4 388.0 L78.0 388.1 L78.5 388.2 L79.0 388.2 L79.6 388.3 L80.1 388.6 L80.6 389.0 L81.1 389.4 L81.7 389.4 L82.2 389.4 L82.7 389.5 L83.3 389.4 L83.8 389.3 L84.3 389.2 L84.9 389.1 L85.4 389.1 L85.9 389.1 L86.4 389.0 L87.0 388.9 L87.5 388.8 L88.0 388.9 L88.6 389.0 L89.1 389.0 L89.6 389.0 L90.2 388.9 L90.7 388.8 L91.2 389.0 L91.7 389.2 L92.3 389.4 L92.8 389.3 L93.3 389.2 L93.9 389.0 L94.4 389.0 L94.9 389.0 L95.5 389.0 L96.0 389.2 L96.5 389.4 L97.0 389.5 L97.6 389.2 L98.1 388.9 L98.6 388.6 L99.2 388.8 L99.7 388.9 L100.2 389.1 L100.8 389.0 L101.3 388.9 L101.8 388.9 L102.3 389.1 L102.9 389.4 L103.4 389.6 L103.9 389.6 L104.5 389.6 L105.0 389.7 L105.5 389.6 L106.1 389.6 L106.6 389.5 L107.1 389.5 L107.6 389.5 L108.2 389.5 L108.7 389.4 L109.2 389.3 L109.8 389.2 L110.3 389.3 L110.8 389.3 L111.4 389.4 L111.9 389.4 L112.4 389.5 L112.9 389.6 L113.5 389.7 L114.0 389.8 L114.5 389.8 L115.1 389.8 L115.6 389.7 L116.1 389.7 L116.7 389.5 L117.2 389.3 L117.7 389.0 L118.2 389.3 L118.8 389.6 L119.3 389.8 L119.8 389.7 L120.4 389.5 L120.9 389.4 L121.4 389.4 L122.0 389.4 L122.5 389.4 L123.0 389.6 L123.5 389.8 L124.1 390.1 L124.6 389.9 L125.1 389.7 L125.7 389.5 L126.2 389.4 L126.7 389.2 L127.2 389.1 L127.8 389.5 L128.3 389.9 L128.8 390.2 L129.4 390.1 L129.9 389.8 L130.4 389.6 L131.0 389.5 L131.5 389.3 L132.0 389.0 L132.6 388.4 L133.1 387.5 L133.6 385.9 L134.1 383.2 L134.7 379.1 L135.2 373.1 L135.7 365.6 L136.3 354.9 L136.8 341.6 L137.3 326.0 L137.9 308.8 L138.4 291.1 L138.9 273.7 L139.4 258.9 L140.0 248.2 L140.5 243.2 L141.0 244.1 L141.6 250.7 L142.1 262.0 L142.6 276.9 L143.2 293.6 L143.7 310.6 L144.2 326.6 L144.7 340.6 L145.3 352.4 L145.8 359.5 L146.3 366.3 L146.9 371.1 L147.4 374.3 L147.9 376.3 L148.4 377.7 L149.0 379.1 L149.5 379.9 L150.0 379.6 L150.6 379.2 L151.1 378.8 L151.6 379.2 L152.2 379.6 L152.7 380.0 L153.2 380.0 L153.8 380.0 L154.3 380.0 L154.8 380.3 L155.3 380.5 L155.9 380.8 L156.4 380.7 L156.9 380.7 L157.5 380.7 L158.0 380.6 L158.5 380.5 L159.1 380.4 L159.6 380.0 L160.1 379.5 L160.6 379.1 L161.2 380.0 L161.7 381.0 L162.2 381.9 L162.8 381.8 L163.3 381.7 L163.8 381.5 L164.4 381.1 L164.9 380.7 L165.4 380.3 L165.9 380.0 L166.5 379.7 L167.0 379.4 L167.5 379.7 L168.1 380.0 L168.6 380.2 L169.1 380.9 L169.7 381.6 L170.2 382.3 L170.7 382.5 L171.2 382.7 L171.8 382.9 L172.3 382.2 L172.8 381.5 L173.4 380.8 L173.9 381.1 L174.4 381.4 L174.9 381.7 L175.5 381.9 L176.0 382.0 L176.5 382.1 L177.1 381.6 L177.6 381.1 L178.1 380.6 L178.7 380.6 L179.2 380.6 L179.7 380.6 L180.2 380.9 L180.8 381.2 L181.3 381.5 L181.8 381.5 L182.4 381.5 L182.9 381.5 L183.4 381.5 L184.0 381.5 L184.5 381.5 L185.0 381.2 L185.6 380.9 L186.1 380.7 L186.6 381.0 L187.1 381.2 L187.7 381.5 L188.2 381.6 L188.7 381.6 L189.3 381.7 L189.8 381.7 L190.3 381.8 L190.9 381.8 L191.4 382.4 L191.9 382.9 L192.4 383.5 L193.0 382.8 L193.5 382.1 L194.0 381.4 L194.6 381.6 L195.1 381.7 L195.6 381.8 L196.2 381.9 L196.7 382.1 L197.2 382.2 L197.7 382.9 L198.3 383.5 L198.8 384.1 L199.3 383.8 L199.9 383.5 L200.4 383.2 L200.9 382.9 L201.4 382.6 L202.0 382.3 L202.5 382.9 L203.0 383.6 L203.6 384.3 L204.1 383.9 L204.6 383.5 L205.2 383.1 L205.7 382.9 L206.2 382.6 L206.8 382.2 L207.3 382.8 L207.8 383.3 L208.3 383.8 L208.9 382.9 L209.4 382.0 L209.9 381.1 L210.5 381.1 L211.0 381.1 L211.5 381.0 L212.1 380.8 L212.6 380.5 L213.1 380.3 L213.6 379.7 L214.2 379.1 L214.7 378.6 L215.2 378.1 L215.8 377.7 L216.3 377.4 L216.8 377.4 L217.4 377.5 L217.9 377.7 L218.4 377.6 L218.9 377.6 L219.5 377.7 L220.0 378.8 L220.5 380.0 L221.1 381.3 L221.6 382.1 L222.1 383.1 L222.7 384.1 L223.2 384.9 L223.7 385.6 L224.2 386.2 L224.8 387.1 L225.3 387.9 L225.8 388.5 L226.4 388.9 L226.9 389.2 L227.4 389.5 L227.9 389.3 L228.5 389.1 L229.0 389.0 L229.5 388.9 L230.1 388.9 L230.6 388.8 L231.1 389.1 L231.7 389.4 L232.2 389.6 L232.7 389.7 L233.2 389.8 L233.8 390.0 L234.3 389.8 L234.8 389.7 L235.4 389.5 L235.9 389.5 L236.4 389.5 L237.0 389.5 L237.5 389.5 L238.0 389.6 L238.6 389.6 L239.1 389.4 L239.6 389.2 L240.1 388.9 L240.7 389.2 L241.2 389.5 L241.7 389.9 L242.3 389.6 L242.8 389.3 L243.3 389.0 L243.9 389.3 L244.4 389.6 L244.9 390.0" fill="none" stroke="#111" stroke-width="1.00" stroke-linejoin="round"/>
<path d="M203.0 383.8 L203.6 383.8 L204.1 383.9 L204.6 383.9 L205.2 383.9 L205.7 383.8 L206.2 383.8 L206.8 383.8 L207.3 383.7 L207.8 383.7 L208.3 383.6 L208.9 383.5 L209.4 383.4 L209.9 383.3 L210.5 383.1 L211.0 382.9 L211.5 382.7 L212.1 382.5 L212.6 382.3 L213.1 382.1 L213.6 381.8 L214.2 381.6 L214.7 381.4 L215.2 381.2 L215.8 381.0 L216.3 380.8 L216.8 380.7 L217.4 380.6 L217.9 380.5 L218.4 380.5 L218.9 380.6 L219.5 380.7 L220.0 381.0 L220.5 381.4 L221.1 381.9 L221.6 382.6 L222.1 383.4 L222.7 384.3 L223.2 385.2 L223.7 386.1 L224.2 386.9 L224.8 387.6 L225.3 388.1 L225.8 388.5 L226.4 388.8 L226.9 389.1" fill="none" stroke="#111" stroke-width="0.8"/>
<path d="M203.0 383.8 L203.6 383.8 L204.1 383.8 L204.6 383.8 L205.2 383.8 L205.7 383.8 L206.2 383.8 L206.8 383.8 L207.3 383.7 L207.8 383.7 L208.3 383.6 L208.9 383.5 L209.4 383.5 L209.9 383.4 L210.5 383.3 L211.0 383.1 L211.5 383.0 L212.1 382.9 L212.6 382.8 L213.1 382.7 L213.6 382.6 L214.2 382.5 L214.7 382.4 L215.2 382.3 L215.8 382.3 L216.3 382.3 L216.8 382.3 L217.4 382.3 L217.9 382.4 L218.4 382.5 L218.9 382.6 L219.5 382.8 L220.0 383.1 L220.5 383.5 L221.1 384.0 L221.6 384.6 L222.1 385.3 L222.7 386.1 L223.2 386.9 L223.7 387.6 L224.2 388.3 L224.8 388.8 L225.3 389.2 L225.8 389.5 L226.4 389.7 L226.9 389.8" fill="none" stroke="#111" stroke-width="0.8"/>
<path d="M55.7 223.0 V393.7 M51.2 390.2 H245.0" stroke="#000" stroke-width="1.15" fill="none"/>
<path d="M53.4 390.2H55.7M53.4 381.9H55.7M53.4 373.6H55.7M53.4 365.4H55.7M53.4 357.1H55.7M51.2 348.8H55.7M53.4 340.5H55.7M53.4 332.2H55.7M53.4 324.0H55.7M53.4 315.7H55.7M51.2 307.4H55.7M53.4 299.1H55.7M53.4 290.8H55.7M53.4 282.6H55.7M53.4 274.3H55.7M51.2 266.0H55.7M53.4 257.7H55.7M53.4 249.4H55.7M53.4 241.2H55.7M53.4 232.9H55.7M53.4 224.6H55.7M55.7 390.2V393.8M64.2 390.2V392.4M72.7 390.2V392.4M81.1 390.2V392.4M89.6 390.2V392.4M98.1 390.2V393.8M106.6 390.2V392.4M115.1 390.2V392.4M123.5 390.2V392.4M132.0 390.2V392.4M140.5 390.2V393.8M149.0 390.2V392.4M157.5 390.2V392.4M165.9 390.2V392.4M174.4 390.2V392.4M182.9 390.2V393.8M191.4 390.2V392.4M199.9 390.2V392.4M208.3 390.2V392.4M216.8 390.2V392.4M225.3 390.2V393.8M233.8 390.2V392.4M242.3 390.2V392.4" stroke="#000" stroke-width="1.1" fill="none"/>
<text transform="translate(49.4 390.2) rotate(-90)" class="yt" text-anchor="middle">0</text>
<text transform="translate(49.4 348.8) rotate(-90)" class="yt" text-anchor="middle">200</text>
<text transform="translate(49.4 307.4) rotate(-90)" class="yt" text-anchor="middle">400</text>
<text transform="translate(49.4 266.0) rotate(-90)" class="yt" text-anchor="middle">600</text>
<text x="55.7" y="398.8" class="xt" text-anchor="middle">0</text>
<text x="98.1" y="398.8" class="xt" text-anchor="middle">40</text>
<text x="140.5" y="398.8" class="xt" text-anchor="middle">80</text>
<text x="182.9" y="398.8" class="xt" text-anchor="middle">120</text>
<text x="225.3" y="398.8" class="xt" text-anchor="middle">160</text>
<text transform="translate(44.9 306.6) rotate(-90)" class="num" text-anchor="middle">Number</text>
<text x="124.1" y="405.9" class="ch" textLength="65.6" lengthAdjust="spacing">Channels (FL2-A)</text>
<text x="151.6" y="280.7" class="lab">FK228</text></g>
<g><path d="M364.6 390.1 L364.6 389.3 L365.1 388.7 L365.7 387.6 L366.2 385.9 L366.7 383.2 L367.2 379.2 L367.8 373.5 L368.3 365.8 L368.8 355.8 L369.3 343.4 L369.9 329.0 L370.4 313.0 L370.9 296.3 L371.4 280.1 L372.0 265.8 L372.5 254.8 L373.0 248.1 L373.5 246.5 L374.1 250.2 L374.6 258.7 L375.1 271.2 L375.6 286.4 L376.2 302.9 L376.7 319.5 L377.2 335.0 L377.7 348.7 L378.2 360.1 L378.8 369.1 L379.3 376.0 L379.8 380.9 L380.4 384.4 L380.9 386.6 L381.4 388.1 L381.9 389.0 L381.9 390.1 Z" fill="#858585" stroke="#111" stroke-width="1.00" stroke-linejoin="round"/>
<path d="M440.7 390.1 L440.7 390.1 L441.2 390.0 L441.8 390.0 L442.3 390.0 L442.8 390.0 L443.4 389.9 L443.9 389.9 L444.4 389.8 L444.9 389.7 L445.5 389.6 L446.0 389.5 L446.5 389.4 L447.0 389.3 L447.6 389.1 L448.1 389.0 L448.6 388.9 L449.1 388.8 L449.6 388.8 L450.2 388.7 L450.7 388.7 L451.2 388.7 L451.8 388.8 L452.3 388.8 L452.8 388.9 L453.3 389.0 L453.9 389.1 L454.4 389.3 L454.9 389.4 L455.4 389.5 L456.0 389.6 L456.5 389.7 L457.0 389.8 L457.5 389.9 L458.1 389.9 L458.6 390.0 L459.1 390.0 L459.6 390.0 L460.1 390.0 L460.7 390.1 L460.7 390.1 Z" fill="#7d7d7d" stroke="#111" stroke-width="0.90"/>
<path d="M367.8 390.1 L367.8 390.1 L368.3 390.1 L368.8 390.1 L369.3 390.0 L369.9 390.0 L370.4 389.9 L370.9 389.8 L371.4 389.7 L372.0 389.6 L372.5 389.4 L373.0 389.3 L373.5 389.1 L374.1 388.9 L374.6 388.8 L375.1 388.6 L375.6 388.5 L376.2 388.4 L376.7 388.3 L377.2 388.3 L377.7 388.2 L378.2 388.2 L378.8 388.2 L379.3 388.2 L379.8 388.2 L380.4 388.2 L380.9 388.2 L381.4 388.2 L381.9 388.2 L382.5 388.2 L383.0 388.2 L383.5 388.2 L384.0 388.2 L384.6 388.2 L385.1 388.2 L385.6 388.2 L386.1 388.2 L386.7 388.3 L387.2 388.3 L387.7 388.3 L388.2 388.3 L388.8 388.3 L389.3 388.3 L389.8 388.3 L390.3 388.3 L390.9 388.3 L391.4 388.3 L391.9 388.3 L392.4 388.3 L393.0 388.3 L393.5 388.3 L394.0 388.3 L394.5 388.3 L395.1 388.3 L395.6 388.3 L396.1 388.3 L396.6 388.3 L397.2 388.3 L397.7 388.3 L398.2 388.3 L398.7 388.3 L399.2 388.3 L399.8 388.3 L400.3 388.4 L400.8 388.4 L401.4 388.4 L401.9 388.4 L402.4 388.4 L402.9 388.4 L403.5 388.4 L404.0 388.4 L404.5 388.4 L405.0 388.4 L405.6 388.4 L406.1 388.4 L406.6 388.4 L407.1 388.4 L407.7 388.4 L408.2 388.4 L408.7 388.4 L409.2 388.4 L409.8 388.4 L410.3 388.4 L410.8 388.4 L411.3 388.4 L411.9 388.4 L412.4 388.4 L412.9 388.4 L413.4 388.4 L414.0 388.4 L414.5 388.5 L415.0 388.5 L415.5 388.5 L416.1 388.5 L416.6 388.5 L417.1 388.5 L417.6 388.5 L418.1 388.5 L418.7 388.5 L419.2 388.5 L419.7 388.5 L420.2 388.5 L420.8 388.5 L421.3 388.5 L421.8 388.5 L422.4 388.5 L422.9 388.5 L423.4 388.5 L423.9 388.5 L424.5 388.5 L425.0 388.5 L425.5 388.5 L426.0 388.5 L426.6 388.5 L427.1 388.5 L427.6 388.5 L428.1 388.6 L428.6 388.6 L429.2 388.6 L429.7 388.6 L430.2 388.6 L430.8 388.6 L431.3 388.6 L431.8 388.6 L432.3 388.6 L432.9 388.6 L433.4 388.6 L433.9 388.6 L434.4 388.6 L435.0 388.6 L435.5 388.6 L436.0 388.6 L436.5 388.6 L437.1 388.6 L437.6 388.6 L438.1 388.6 L438.6 388.6 L439.1 388.6 L439.7 388.6 L440.2 388.6 L440.7 388.6 L441.2 388.6 L441.8 388.6 L442.3 388.7 L442.8 388.7 L443.4 388.7 L443.9 388.7 L444.4 388.7 L444.9 388.7 L445.5 388.7 L446.0 388.7 L446.5 388.7 L447.0 388.7 L447.6 388.7 L448.1 388.7 L448.6 388.7 L449.1 388.7 L449.6 388.7 L450.2 388.7 L450.7 388.7 L451.2 388.7 L451.8 388.7 L452.3 388.7 L452.8 388.7 L453.3 388.7 L453.9 388.7 L454.4 388.7 L454.9 388.8 L455.4 388.8 L456.0 388.9 L456.5 389.0 L457.0 389.1 L457.5 389.2 L458.1 389.4 L458.6 389.6 L459.1 389.7 L459.6 389.8 L460.1 389.9 L460.7 390.0 L461.2 390.0 L461.7 390.1 L461.7 390.1 Z" fill="url(#hs)" stroke="#111" stroke-width="0.90"/>
<path d="M284.8 390.1 L285.3 390.1 L285.9 390.1 L286.4 388.9 L286.9 380.2 L287.4 359.7 L287.9 365.1 L288.5 369.3 L289.0 372.5 L289.5 375.8 L290.1 378.0 L290.6 379.7 L291.1 381.2 L291.6 381.3 L292.2 381.2 L292.7 381.1 L293.2 381.3 L293.7 381.5 L294.2 381.6 L294.8 381.6 L295.3 381.6 L295.8 381.6 L296.4 383.1 L296.9 384.4 L297.4 385.8 L297.9 386.0 L298.4 386.2 L299.0 386.5 L299.5 385.7 L300.0 385.0 L300.6 384.3 L301.1 384.6 L301.6 384.9 L302.1 385.1 L302.7 384.8 L303.2 384.5 L303.7 384.3 L304.2 384.6 L304.8 385.0 L305.3 385.3 L305.8 385.9 L306.3 386.4 L306.9 386.9 L307.4 387.1 L307.9 387.3 L308.4 387.4 L308.9 386.4 L309.5 385.5 L310.0 384.5 L310.5 385.6 L311.1 386.8 L311.6 387.9 L312.1 388.1 L312.6 388.3 L313.2 388.6 L313.7 388.7 L314.2 388.9 L314.7 389.1 L315.2 388.7 L315.8 388.3 L316.3 387.9 L316.8 388.0 L317.4 388.0 L317.9 388.0 L318.4 388.2 L318.9 388.4 L319.4 388.6 L320.0 388.5 L320.5 388.5 L321.0 388.4 L321.6 388.3 L322.1 388.3 L322.6 388.2 L323.1 388.1 L323.7 388.0 L324.2 387.9 L324.7 387.8 L325.2 387.6 L325.8 387.5 L326.3 387.8 L326.8 388.1 L327.3 388.4 L327.9 389.1 L328.4 389.7 L328.9 390.1 L329.4 389.6 L329.9 388.8 L330.5 388.1 L331.0 388.7 L331.5 389.4 L332.1 390.0 L332.6 389.7 L333.1 389.3 L333.6 388.9 L334.2 389.3 L334.7 389.7 L335.2 390.1 L335.7 389.7 L336.2 389.3 L336.8 388.8 L337.3 389.1 L337.8 389.3 L338.4 389.5 L338.9 389.3 L339.4 389.0 L339.9 388.7 L340.5 387.8 L341.0 386.9 L341.5 386.0 L342.0 387.0 L342.6 388.0 L343.1 388.9 L343.6 388.7 L344.1 388.4 L344.7 388.2 L345.2 388.8 L345.7 389.4 L346.2 390.1 L346.8 389.8 L347.3 389.5 L347.8 389.2 L348.3 388.9 L348.9 388.6 L349.4 388.4 L349.9 388.6 L350.4 388.8 L351.0 389.0 L351.5 388.9 L352.0 388.8 L352.5 388.6 L353.1 388.7 L353.6 388.8 L354.1 388.9 L354.6 389.2 L355.2 389.5 L355.7 389.8 L356.2 389.4 L356.7 388.9 L357.2 388.5 L357.8 388.9 L358.3 389.3 L358.8 389.7 L359.4 388.9 L359.9 388.1 L360.4 387.4 L360.9 388.0 L361.5 388.7 L362.0 389.4 L362.5 389.0 L363.0 388.6 L363.6 388.1 L364.1 388.1 L364.6 388.0 L365.1 387.6 L365.7 386.4 L366.2 384.5 L366.7 381.7 L367.2 377.8 L367.8 372.4 L368.3 366.1 L368.8 355.8 L369.3 343.0 L369.9 328.0 L370.4 312.1 L370.9 295.7 L371.4 279.8 L372.0 264.9 L372.5 253.1 L373.0 245.6 L373.5 244.1 L374.1 247.9 L374.6 256.6 L375.1 269.2 L375.6 284.5 L376.2 301.1 L376.7 317.9 L377.2 333.6 L377.7 347.4 L378.2 358.4 L378.8 367.1 L379.3 372.6 L379.8 377.6 L380.4 381.1 L380.9 383.5 L381.4 384.8 L381.9 385.6 L382.5 384.5 L383.0 385.7 L383.5 386.6 L384.0 387.5 L384.6 387.2 L385.1 386.8 L385.6 386.5 L386.1 386.5 L386.7 386.6 L387.2 386.6 L387.7 386.7 L388.2 386.8 L388.8 386.8 L389.3 386.9 L389.8 386.9 L390.3 386.9 L390.9 386.9 L391.4 387.0 L391.9 387.0 L392.4 387.3 L393.0 387.6 L393.5 387.9 L394.0 388.0 L394.5 388.2 L395.1 388.3 L395.6 388.1 L396.1 387.9 L396.6 387.7 L397.2 387.3 L397.7 386.9 L398.2 386.6 L398.7 386.2 L399.2 385.9 L399.8 385.6 L400.3 385.8 L400.8 386.0 L401.4 386.2 L401.9 386.1 L402.4 386.1 L402.9 386.1 L403.5 386.2 L404.0 386.3 L404.5 386.4 L405.0 386.4 L405.6 386.5 L406.1 386.5 L406.6 386.7 L407.1 386.9 L407.7 387.1 L408.2 386.9 L408.7 386.7 L409.2 386.5 L409.8 386.1 L410.3 385.7 L410.8 385.4 L411.3 386.1 L411.9 386.9 L412.4 387.7 L412.9 387.8 L413.4 388.0 L414.0 388.1 L414.5 387.1 L415.0 386.2 L415.5 385.2 L416.1 385.8 L416.6 386.5 L417.1 387.1 L417.6 386.8 L418.1 386.6 L418.7 386.3 L419.2 386.3 L419.7 386.4 L420.2 386.4 L420.8 387.2 L421.3 387.9 L421.8 388.6 L422.4 387.3 L422.9 386.0 L423.4 384.7 L423.9 385.0 L424.5 385.2 L425.0 385.5 L425.5 386.1 L426.0 386.7 L426.6 387.2 L427.1 387.0 L427.6 386.8 L428.1 386.6 L428.6 386.9 L429.2 387.1 L429.7 387.3 L430.2 387.7 L430.8 388.1 L431.3 388.4 L431.8 388.1 L432.3 387.9 L432.9 387.6 L433.4 387.4 L433.9 387.3 L434.4 387.1 L435.0 386.8 L435.5 386.6 L436.0 386.3 L436.5 386.4 L437.1 386.6 L437.6 386.7 L438.1 387.0 L438.6 387.2 L439.1 387.4 L439.7 387.0 L440.2 386.5 L440.7 386.0 L441.2 386.8 L441.8 387.5 L442.3 388.3 L442.8 387.7 L443.4 387.1 L443.9 386.4 L444.4 386.2 L444.9 386.0 L445.5 385.8 L446.0 386.2 L446.5 386.6 L447.0 387.1 L447.6 387.6 L448.1 388.1 L448.6 388.6 L449.1 388.1 L449.6 387.7 L450.2 387.3 L450.7 386.9 L451.2 386.4 L451.8 386.0 L452.3 385.9 L452.8 385.9 L453.3 385.9 L453.9 385.6 L454.4 385.4 L454.9 385.2 L455.4 386.3 L456.0 387.4 L456.5 388.6 L457.0 388.4 L457.5 388.2 L458.1 388.1 L458.6 388.1 L459.1 388.1 L459.6 388.1 L460.1 388.4 L460.7 388.8 L461.2 389.1 L461.7 389.7 L462.2 390.1 L462.8 390.1 L463.3 390.1 L463.8 389.2 L464.4 388.3 L464.9 387.9 L465.4 387.4 L465.9 387.0 L466.5 387.4 L467.0 387.8 L467.5 388.1 L468.0 388.7 L468.6 389.2 L469.1 389.8 L469.6 389.6 L470.1 389.5 L470.6 389.3 L471.2 389.2 L471.7 389.0 L472.2 388.8 L472.8 388.2 L473.3 387.5 L473.8 386.9 L474.3 387.4" fill="none" stroke="#111" stroke-width="1.00" stroke-linejoin="round"/>
<path d="M284.8 223.0 V393.6 M280.3 390.1 H474.5" stroke="#000" stroke-width="1.15" fill="none"/>
<path d="M282.5 390.1H284.8M282.5 384.6H284.8M282.5 379.0H284.8M282.5 373.5H284.8M282.5 367.9H284.8M280.3 362.4H284.8M282.5 356.8H284.8M282.5 351.3H284.8M282.5 345.7H284.8M282.5 340.2H284.8M280.3 334.6H284.8M282.5 329.1H284.8M282.5 323.5H284.8M282.5 318.0H284.8M282.5 312.4H284.8M280.3 306.9H284.8M282.5 301.3H284.8M282.5 295.8H284.8M282.5 290.2H284.8M282.5 284.7H284.8M280.3 279.1H284.8M282.5 273.6H284.8M282.5 268.0H284.8M282.5 262.5H284.8M282.5 256.9H284.8M280.3 251.4H284.8M282.5 245.9H284.8M282.5 240.3H284.8M282.5 234.8H284.8M282.5 229.2H284.8M282.5 223.7H284.8M284.8 390.1V393.7M293.2 390.1V392.3M301.6 390.1V392.3M310.0 390.1V392.3M318.4 390.1V392.3M326.8 390.1V393.7M335.2 390.1V392.3M343.6 390.1V392.3M352.0 390.1V392.3M360.4 390.1V392.3M368.8 390.1V393.7M377.2 390.1V392.3M385.6 390.1V392.3M394.0 390.1V392.3M402.4 390.1V392.3M410.8 390.1V393.7M419.2 390.1V392.3M427.6 390.1V392.3M436.0 390.1V392.3M444.4 390.1V392.3M452.8 390.1V393.7M461.2 390.1V392.3M469.6 390.1V392.3" stroke="#000" stroke-width="1.1" fill="none"/>
<text transform="translate(278.5 390.1) rotate(-90)" class="yt" text-anchor="middle">0</text>
<text transform="translate(278.5 362.4) rotate(-90)" class="yt" text-anchor="middle">100</text>
<text transform="translate(278.5 334.6) rotate(-90)" class="yt" text-anchor="middle">200</text>
<text transform="translate(278.5 306.9) rotate(-90)" class="yt" text-anchor="middle">300</text>
<text transform="translate(278.5 279.1) rotate(-90)" class="yt" text-anchor="middle">400</text>
<text transform="translate(278.5 251.4) rotate(-90)" class="yt" text-anchor="middle">500</text>
<text x="284.8" y="398.7" class="xt" text-anchor="middle">0</text>
<text x="326.8" y="398.7" class="xt" text-anchor="middle">40</text>
<text x="368.8" y="398.7" class="xt" text-anchor="middle">80</text>
<text x="410.8" y="398.7" class="xt" text-anchor="middle">120</text>
<text x="452.8" y="398.7" class="xt" text-anchor="middle">160</text>
<text transform="translate(274.0 306.6) rotate(-90)" class="num" text-anchor="middle">Number</text>
<text x="352.5" y="405.8" class="ch" textLength="65.0" lengthAdjust="spacing">Channels (FL2-A)</text>
<text x="398.3" y="273.9" class="lab">ATRA / FK228</text></g>
<path d="M44.4 534.3V741.2H267.5" stroke="#8c8c8c" stroke-width="1" fill="none"/>
<path d="M41.6 741.2H44.4M41.6 699.8H44.4M41.6 658.4H44.4M41.6 617.1H44.4M41.6 575.7H44.4M41.6 534.3H44.4M100.2 741.2V739.2M156.0 741.2V739.2M211.8 741.2V739.2M267.6 741.2V739.2" stroke="#8c8c8c" stroke-width="1" fill="none"/>
<text x="29.5" y="745.8" class="tk">0</text>
<text x="29.5" y="704.9" class="tk">20</text>
<text x="29.5" y="664.0" class="tk">40</text>
<text x="29.5" y="623.0" class="tk">60</text>
<text x="29.5" y="582.1" class="tk">80</text>
<text x="29.5" y="541.2" class="tk">100</text>
<rect x="61.2" y="648.3" width="22.1" height="92.9" fill="#fff" stroke="#1a1a1a" stroke-width="1.1"/>
<path d="M72.3 639.3V657.3M68.6 639.3H76.0M68.6 657.3H76.0" stroke="#1a1a1a" stroke-width="1.1" fill="none"/>
<text transform="translate(59.1 776.3) rotate(-44)" class="cat" y="4.6" style="font-size:14.7px">Control</text>
<rect x="117.0" y="616.0" width="22.1" height="125.2" fill="#2a2a2a" stroke="#1a1a1a" stroke-width="1.1"/>
<path d="M128.1 601.6V616.0M124.4 601.6H131.8" stroke="#1a1a1a" stroke-width="1.1" fill="none"/>
<text transform="translate(116.2 777.7) rotate(-44)" class="cat" y="4.6" style="font-size:14.6px">ATRA</text>
<rect x="172.8" y="621.5" width="22.1" height="119.7" fill="#a9a9a9" stroke="#1a1a1a" stroke-width="1.1"/>
<path d="M183.9 613.0V630.0M180.2 613.0H187.6M180.2 630.0H187.6" stroke="#1a1a1a" stroke-width="1.1" fill="none"/>
<text transform="translate(171.7 778.9) rotate(-44)" class="cat" y="4.6">FK228</text>
<rect x="228.6" y="571.5" width="22.1" height="169.7" fill="url(#hb)" stroke="#1a1a1a" stroke-width="1.1"/>
<path d="M239.7 572.5V578.8M235.7 578.3H243.7" stroke="#fff" stroke-width="2.2" fill="none"/>
<path d="M239.7 564.7V578.3M236.0 564.7H243.4M236.0 578.3H243.4" stroke="#1a1a1a" stroke-width="1.1" fill="none"/>
<text transform="translate(217.9 776.6) rotate(-44)" class="cat" y="4.6">ATRA/FK228</text>
<path d="M303.1 533.5V741.0H519.5" stroke="#8c8c8c" stroke-width="1" fill="none"/>
<path d="M300.3 741.0H303.1M300.3 699.5H303.1M300.3 658.0H303.1M300.3 616.5H303.1M300.3 575.0H303.1M300.3 533.5H303.1M357.1 741.0V739.0M411.1 741.0V739.0M465.1 741.0V739.0M519.1 741.0V739.0" stroke="#8c8c8c" stroke-width="1" fill="none"/>
<text x="288.7" y="744.6" class="tk">0</text>
<text x="288.7" y="703.8" class="tk">20</text>
<text x="288.7" y="663.0" class="tk">40</text>
<text x="288.7" y="622.1" class="tk">60</text>
<text x="288.7" y="581.3" class="tk">80</text>
<text x="288.7" y="540.5" class="tk">100</text>
<rect x="318.8" y="639.0" width="22.0" height="102.0" fill="#fff" stroke="#1a1a1a" stroke-width="1.1"/>
<path d="M329.8 630.2V647.8M326.6 630.2H333.0M326.6 647.8H333.0" stroke="#1a1a1a" stroke-width="1.1" fill="none"/>
<text transform="translate(313.9 773.9) rotate(-44)" class="cat" y="4.6" style="font-size:14.7px">Control</text>
<rect x="372.8" y="674.5" width="22.0" height="66.5" fill="#2a2a2a" stroke="#1a1a1a" stroke-width="1.1"/>
<path d="M383.8 660.9V674.5M380.6 660.9H387.0" stroke="#1a1a1a" stroke-width="1.1" fill="none"/>
<text transform="translate(371.0 775.8) rotate(-44)" class="cat" y="4.6" style="font-size:14.6px">ATRA</text>
<rect x="426.8" y="660.4" width="22.0" height="80.6" fill="#a9a9a9" stroke="#1a1a1a" stroke-width="1.1"/>
<path d="M437.8 655.3V665.5M434.6 655.3H441.0M434.6 665.5H441.0" stroke="#1a1a1a" stroke-width="1.1" fill="none"/>
<text transform="translate(425.7 776.7) rotate(-44)" class="cat" y="4.6">FK228</text>
<rect x="480.8" y="706.1" width="22.0" height="34.9" fill="url(#hb)" stroke="#1a1a1a" stroke-width="1.1"/>
<path d="M491.8 707.1V711.5M487.8 711.0H495.8" stroke="#fff" stroke-width="2.2" fill="none"/>
<path d="M491.8 701.2V711.0M488.6 701.2H495.0M488.6 711.0H495.0" stroke="#1a1a1a" stroke-width="1.1" fill="none"/>
<text transform="translate(471.8 774.4) rotate(-44)" class="cat" y="4.6">ATRA/FK228</text>
<text transform="translate(11.6 698.6) rotate(-90)" class="yl" textLength="116.8" lengthAdjust="spacing">Cell population&#160; (%)</text>
<path d="M61.0 563.4V494.9H239.8V511.0" stroke="#383838" stroke-width="1" fill="none"/>
<text x="149.4" y="498.5" class="st">**</text>
<path d="M69.6 563.4V504.7H177.0V517.0" stroke="#383838" stroke-width="1" fill="none"/>
<text x="117.6" y="510.2" class="st">*</text>
<path d="M78.5 558.6V518.5H123.5V558.6" stroke="#383838" stroke-width="1" fill="none"/>
<text x="99.0" y="522.8" class="st">*</text>
<path d="M127.7 567.3V540.7H235.4V567.3" stroke="#383838" stroke-width="1" fill="none"/>
<text x="177.0" y="542.9" class="st">**</text>
<path d="M172.5 576.0V554.4H226.3V562.7" stroke="#383838" stroke-width="1" fill="none"/>
<text x="199.5" y="556.4" class="st">**</text>
<path d="M315.5 553.2V499.5H495.0V543.3" stroke="#383838" stroke-width="1" fill="none"/>
<text x="400.5" y="501.2" class="st">**</text>
<path d="M324.3 553.2V512.8H432.0V535.0" stroke="#383838" stroke-width="1" fill="none"/>
<text x="373.5" y="514.4" class="st">**</text>
<path d="M333.6 548.9V526.6H374.1V575.0" stroke="#383838" stroke-width="1" fill="none"/>
<text x="355.6" y="528.6" class="st">**</text>
<path d="M382.7 593.0V566.0H490.4V593.0" stroke="#383838" stroke-width="1" fill="none"/>
<text x="431.8" y="568.5" class="st">**</text>
<path d="M427.7 602.3V579.7H481.5V602.3" stroke="#383838" stroke-width="1" fill="none"/>
<text x="454.0" y="581.9" class="st">**</text>
</svg></body></html>
